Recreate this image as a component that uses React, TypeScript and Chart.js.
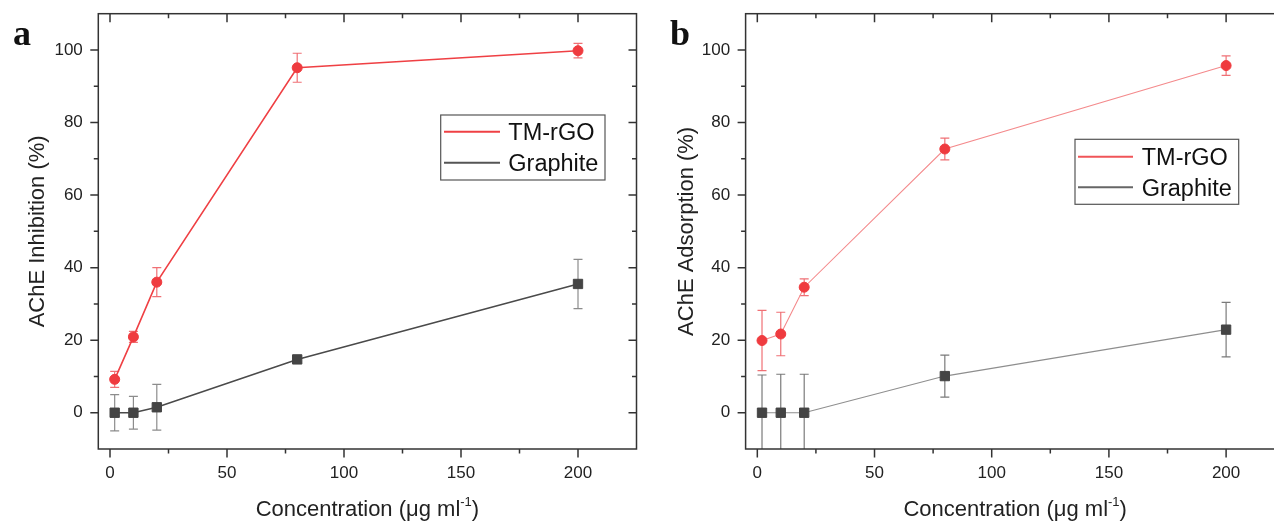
import React, { useEffect, useRef } from 'react';
import { Chart, registerables } from 'chart.js';

Chart.register(...registerables);

// ---------------- data ----------------
const concentrations = [2, 10, 20, 80, 200];
const seriesLabels = ['TM-rGO', 'Graphite'];

const tmrgoInhibition = [9.2, 20.9, 36.0, 95.1, 99.8];
const tmrgoInhibitionErr = [2.2, 1.5, 4.0, 4.0, 2.0];
const graphiteInhibition = [0, 0, 1.5, 14.7, 35.5];
const graphiteInhibitionErr = [5.0, 4.5, 6.3, 0.8, 6.8];

const tmrgoAdsorption = [19.9, 21.7, 34.6, 72.7, 95.7];
const tmrgoAdsorptionErr = [8.3, 6.0, 2.3, 3.0, 2.7];
const graphiteAdsorption = [0, 0, 0, 10.1, 22.9];
const graphiteAdsorptionErr = [10.4, 10.6, 10.6, 5.8, 7.5];

const xMajorTicks = [0, 50, 100, 150, 200];
const xMinorTicks = [25, 75, 125, 175];
const yMajorTicks = [0, 20, 40, 60, 80, 100];
const yMinorTicks = [10, 30, 50, 70, 90];

const FONT = '"Liberation Sans", Arial, Helvetica, sans-serif';
const SERIF = '"Liberation Serif", "Times New Roman", serif';

type SeriesStyle = {
  color: string;
  lineColor: string;
  lineWidth: number;
  errColor: string;
  pointStyle: string;
  radius: number;
  legendColor: string;
};

type PanelSpec = {
  canvasLeft: number;
  canvasWidth: number;
  yAxisWidth: number;
  padRight: number;
  letter: string;
  letterX: number;
  yTitle: string;
  yTitleX: number;
  values: number[][];
  errors: number[][];
  styles: SeriesStyle[];
  legend: { box: number[]; lineX: number[]; textX: number; rows: number[] };
};

const panels: PanelSpec[] = [
  {
    canvasLeft: 0,
    canvasWidth: 640,
    yAxisWidth: 98.3,
    padRight: 3.5,
    letter: 'a',
    letterX: 13,
    yTitle: 'AChE Inhibition (%)',
    yTitleX: 44,
    values: [tmrgoInhibition, graphiteInhibition],
    errors: [tmrgoInhibitionErr, graphiteInhibitionErr],
    styles: [
      { color: '#ef3b3f', lineColor: '#ef4044', lineWidth: 1.6, errColor: '#f07075', pointStyle: 'circle', radius: 5, legendColor: '#ef4044' },
      { color: '#444444', lineColor: '#4a4a4a', lineWidth: 1.6, errColor: '#8c8c8c', pointStyle: 'rect', radius: 6.6, legendColor: '#555555' },
    ],
    legend: { box: [440.7, 115, 605, 180], lineX: [444, 500], textX: 508.3, rows: [131.7, 162.7] },
  },
  {
    canvasLeft: 640,
    canvasWidth: 660,
    yAxisWidth: 105.6,
    padRight: 15.3,
    letter: 'b',
    letterX: 30,
    yTitle: 'AChE Adsorption (%)',
    yTitleX: 52.7,
    values: [tmrgoAdsorption, graphiteAdsorption],
    errors: [tmrgoAdsorptionErr, graphiteAdsorptionErr],
    styles: [
      { color: '#ef3b3f', lineColor: '#f48a8c', lineWidth: 1.1, errColor: '#f07075', pointStyle: 'circle', radius: 5, legendColor: '#f05558' },
      { color: '#444444', lineColor: '#8e8e8e', lineWidth: 1.1, errColor: '#7a7a7a', pointStyle: 'rect', radius: 6.6, legendColor: '#666666' },
    ],
    legend: { box: [435, 139.3, 598.7, 204.3], lineX: [438, 493], textX: 501.7, rows: [156.7, 187.3] },
  },
];

function drawXTitle(ctx: CanvasRenderingContext2D, cx: number, baseline: number) {
  const main = 'Concentration (\u03bcg ml';
  const sup = '-1';
  const tail = ')';
  ctx.font = `22px ${FONT}`;
  const w1 = ctx.measureText(main).width;
  const w3 = ctx.measureText(tail).width;
  ctx.font = `13px ${FONT}`;
  const w2 = ctx.measureText(sup).width;
  let x = cx - (w1 + w2 + w3) / 2;
  ctx.textAlign = 'left';
  ctx.textBaseline = 'alphabetic';
  ctx.font = `22px ${FONT}`;
  ctx.fillText(main, x, baseline);
  x += w1;
  ctx.font = `13px ${FONT}`;
  ctx.fillText(sup, x, baseline - 10);
  x += w2;
  ctx.font = `22px ${FONT}`;
  ctx.fillText(tail, x, baseline);
}

function makeChart(canvas: HTMLCanvasElement, spec: PanelSpec) {
  const datasets = seriesLabels.map((label, si) => {
    const st = spec.styles[si];
    return {
      label,
      data: concentrations.map((x, i) => ({ x, y: spec.values[si][i] })),
      errors: spec.errors[si],
      errColor: st.errColor,
      legendColor: st.legendColor,
      borderColor: st.lineColor,
      borderWidth: st.lineWidth,
      backgroundColor: st.color,
      pointStyle: st.pointStyle,
      pointRadius: st.radius,
      pointBackgroundColor: st.color,
      pointBorderColor: st.color,
      pointBorderWidth: 1,
      tension: 0,
      fill: false,
    };
  });

  const errorBars = {
    id: 'errorBars',
    beforeDatasetsDraw(chart: any) {
      const { ctx, chartArea, scales } = chart;
      ctx.save();
      ctx.beginPath();
      ctx.rect(chartArea.left, chartArea.top, chartArea.right - chartArea.left, chartArea.bottom - chartArea.top);
      ctx.clip();
      chart.data.datasets.forEach((ds: any) => {
        ctx.strokeStyle = ds.errColor;
        ctx.lineWidth = 1.2;
        ds.data.forEach((p: any, i: number) => {
          const e = ds.errors[i];
          const px = scales.x.getPixelForValue(p.x);
          const t = scales.y.getPixelForValue(p.y + e);
          const b = scales.y.getPixelForValue(p.y - e);
          ctx.beginPath();
          ctx.moveTo(px, t);
          ctx.lineTo(px, b);
          ctx.moveTo(px - 4.5, t);
          ctx.lineTo(px + 4.5, t);
          ctx.moveTo(px - 4.5, b);
          ctx.lineTo(px + 4.5, b);
          ctx.stroke();
        });
      });
      ctx.restore();
    },
  };

  const decorations = {
    id: 'decorations',
    afterDraw(chart: any) {
      const { ctx, chartArea, scales } = chart;
      const { left, right, top, bottom } = chartArea;
      ctx.save();
      ctx.strokeStyle = '#333333';
      ctx.lineWidth = 1.5;
      // x ticks (bottom outward, top inward)
      scales.x.ticks.forEach((t: any) => {
        const px = scales.x.getPixelForValue(t.value);
        const len = xMajorTicks.includes(t.value) ? 8.5 : 4.5;
        ctx.beginPath();
        ctx.moveTo(px, bottom);
        ctx.lineTo(px, bottom + len);
        ctx.moveTo(px, top);
        ctx.lineTo(px, top + len);
        ctx.stroke();
      });
      // y ticks (left outward, right inward)
      scales.y.ticks.forEach((t: any) => {
        const py = scales.y.getPixelForValue(t.value);
        const len = yMajorTicks.includes(t.value) ? 8 : 4.5;
        ctx.beginPath();
        ctx.moveTo(left - len, py);
        ctx.lineTo(left, py);
        ctx.moveTo(right - len, py);
        ctx.lineTo(right, py);
        ctx.stroke();
      });
      // frame
      ctx.strokeRect(left, top, right - left, bottom - top);

      // titles
      ctx.fillStyle = '#222222';
      drawXTitle(ctx, (left + right) / 2, 516);
      ctx.save();
      ctx.translate(spec.yTitleX, (top + bottom) / 2);
      ctx.rotate(-Math.PI / 2);
      ctx.font = `22px ${FONT}`;
      ctx.textAlign = 'center';
      ctx.textBaseline = 'alphabetic';
      ctx.fillText(spec.yTitle, 0, 0);
      ctx.restore();

      // panel letter
      ctx.fillStyle = '#111111';
      ctx.font = `bold 36px ${SERIF}`;
      ctx.textAlign = 'left';
      ctx.textBaseline = 'alphabetic';
      ctx.fillText(spec.letter, spec.letterX, 45);

      // legend
      const lg = spec.legend;
      ctx.fillStyle = '#ffffff';
      ctx.fillRect(lg.box[0], lg.box[1], lg.box[2] - lg.box[0], lg.box[3] - lg.box[1]);
      ctx.strokeStyle = '#555555';
      ctx.lineWidth = 1.2;
      ctx.strokeRect(lg.box[0], lg.box[1], lg.box[2] - lg.box[0], lg.box[3] - lg.box[1]);
      chart.data.datasets.forEach((ds: any, i: number) => {
        const ly = lg.rows[i];
        ctx.strokeStyle = ds.legendColor;
        ctx.lineWidth = 2;
        ctx.beginPath();
        ctx.moveTo(lg.lineX[0], ly);
        ctx.lineTo(lg.lineX[1], ly);
        ctx.stroke();
        ctx.fillStyle = '#111111';
        ctx.font = `23.5px ${FONT}`;
        ctx.textAlign = 'left';
        ctx.textBaseline = 'alphabetic';
        ctx.fillText(ds.label, lg.textX, ly + 8.7);
      });
      ctx.restore();
    },
  };

  const xTickValues = [...xMajorTicks, ...xMinorTicks].sort((a, b) => a - b);
  const yTickValues = [...yMajorTicks, ...yMinorTicks].sort((a, b) => a - b);

  return new Chart(canvas, {
    type: 'line',
    data: { datasets } as any,
    options: {
      animation: false,
      responsive: false,
      devicePixelRatio: 1,
      layout: { autoPadding: false, padding: { top: 13.7, right: spec.padRight, left: 0, bottom: 0 } },
      plugins: {
        legend: { display: false },
        tooltip: { enabled: false },
        title: { display: false },
      },
      scales: {
        x: {
          type: 'linear',
          min: -5,
          max: 225,
          grid: { display: false, drawTicks: false },
          border: { display: false },
          ticks: {
            autoSkip: false,
            maxRotation: 0,
            padding: 14,
            color: '#222222',
            font: { family: FONT, size: 17 },
            callback: (v: any) => (xMajorTicks.includes(Number(v)) ? String(v) : ''),
          },
          afterBuildTicks: (s: any) => {
            s.ticks = xTickValues.map((v) => ({ value: v }));
          },
          afterFit: (s: any) => {
            s.height = 72;
            s.paddingLeft = 0;
            s.paddingRight = 0;
            s.paddingTop = 0;
            s.paddingBottom = 0;
          },
        },
        y: {
          type: 'linear',
          min: -10,
          max: 110,
          grid: { display: false, drawTicks: false },
          border: { display: false },
          ticks: {
            autoSkip: false,
            padding: 15.5,
            color: '#222222',
            font: { family: FONT, size: 17 },
            callback: (v: any) => (yMajorTicks.includes(Number(v)) ? String(v) : ''),
          },
          afterBuildTicks: (s: any) => {
            s.ticks = yTickValues.map((v) => ({ value: v }));
          },
          afterFit: (s: any) => {
            s.width = spec.yAxisWidth;
            s.paddingLeft = 0;
            s.paddingRight = 0;
            s.paddingTop = 0;
            s.paddingBottom = 0;
          },
        },
      },
    } as any,
    plugins: [errorBars, decorations],
  });
}

function Panel({ spec }: { spec: PanelSpec }) {
  const ref = useRef<HTMLCanvasElement | null>(null);
  useEffect(() => {
    if (!ref.current) return;
    const chart = makeChart(ref.current, spec);
    return () => chart.destroy();
  }, [spec]);
  return (
    <canvas
      ref={ref}
      width={spec.canvasWidth}
      height={521}
      style={{ position: 'absolute', left: spec.canvasLeft, top: 0, width: spec.canvasWidth, height: 521, display: 'block' }}
    />
  );
}

export default function App() {
  return (
    <div
      style={{
        position: 'absolute',
        left: 0,
        top: 0,
        width: 1274,
        height: 521,
        overflow: 'hidden',
        background: '#ffffff',
      }}
    >
      {panels.map((p, i) => (
        <Panel key={i} spec={p} />
      ))}
    </div>
  );
}
